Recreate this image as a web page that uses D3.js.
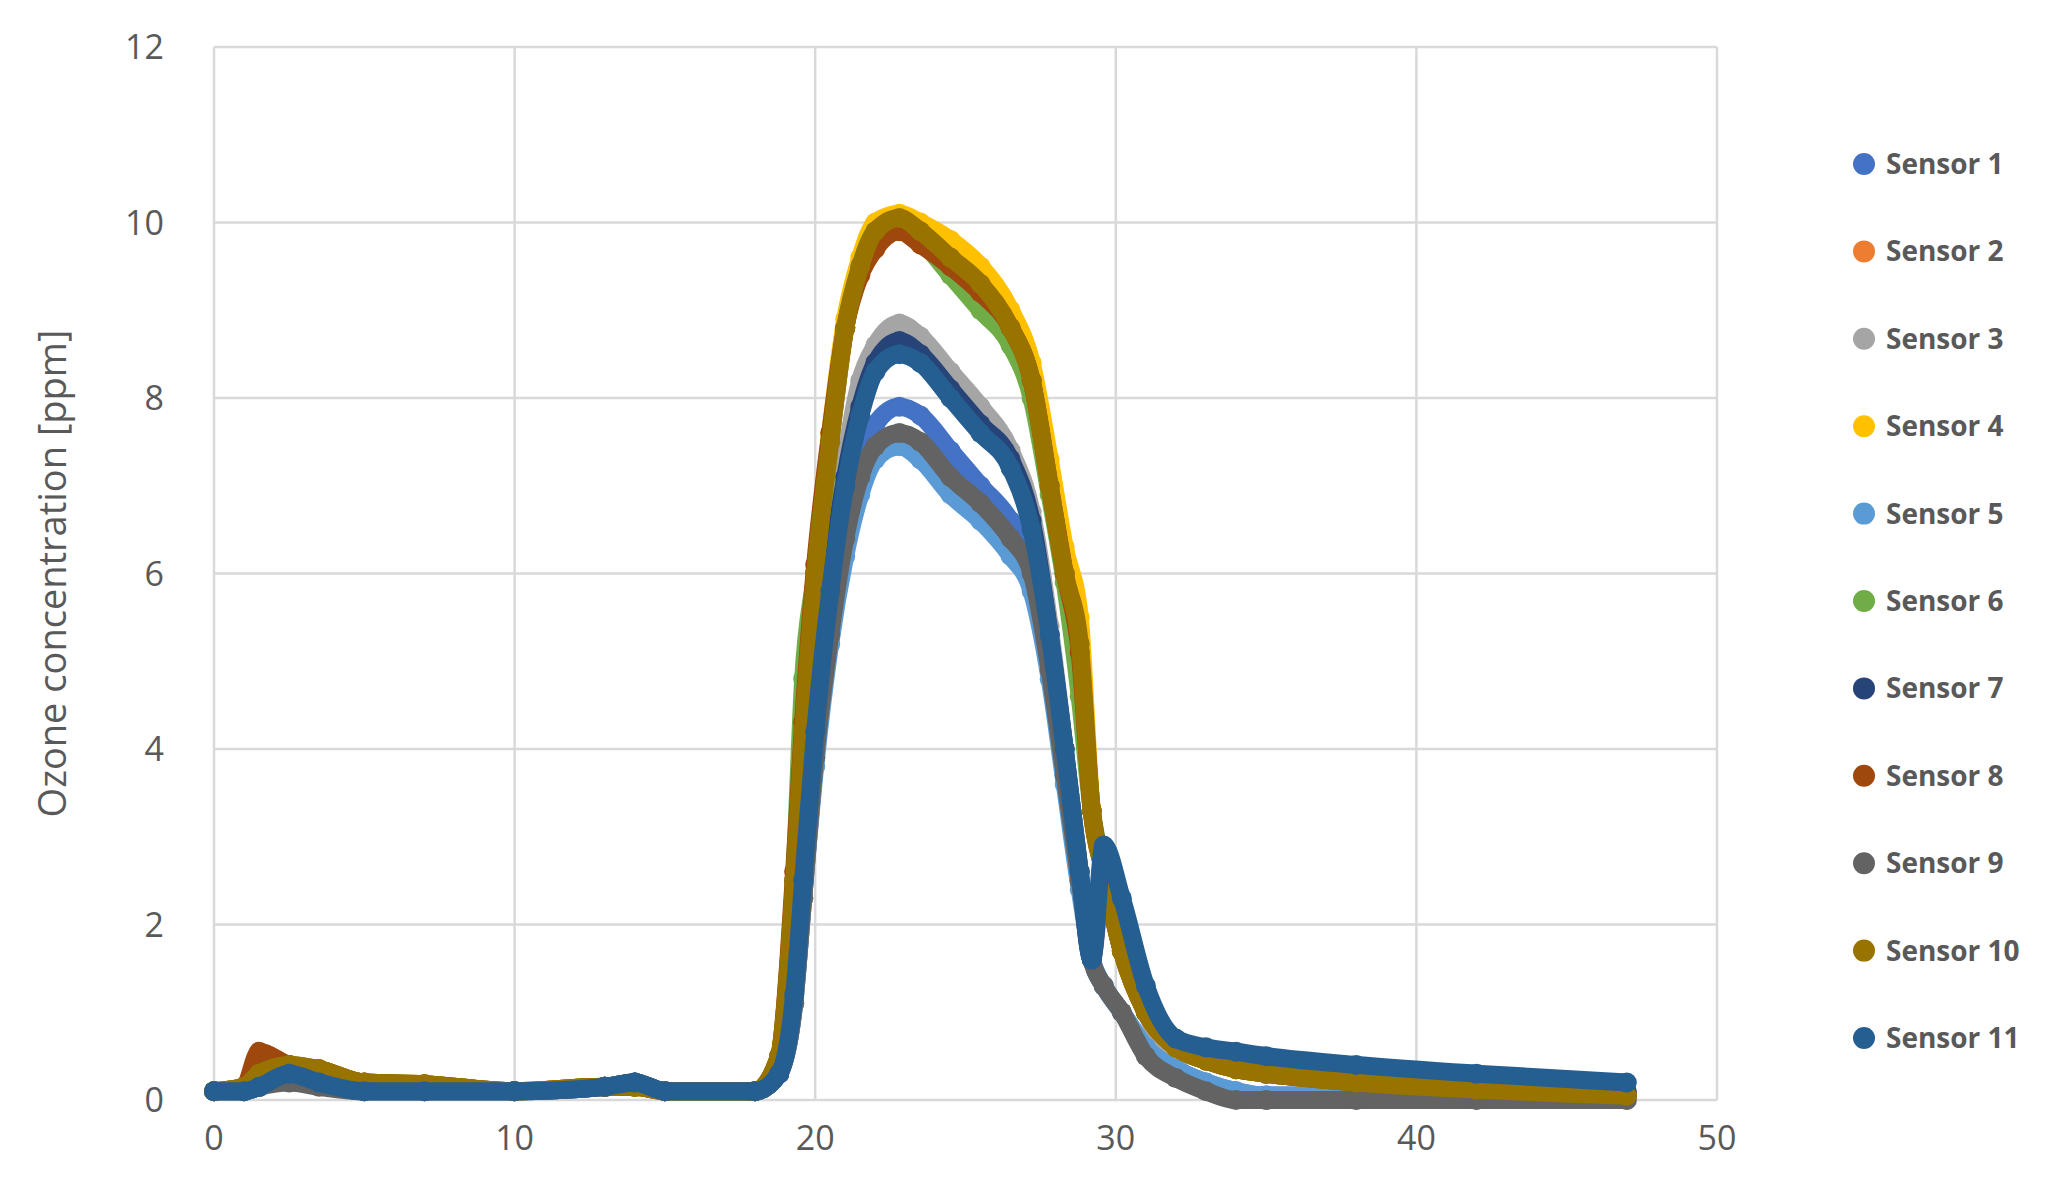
<!DOCTYPE html><html><head><meta charset="utf-8">
<script src="https://cdn.jsdelivr.net/npm/d3@7"></script>
<style>body{margin:0;background:#fff}</style></head><body><svg id="c" width="2058" height="1195"></svg>
<script>
const times=[0,1,1.5,2.5,3.5,5,7,10,13,14,15,18,18.8,19.3,19.6,20,20.5,21,21.5,22,22.8,23.5,24.5,25.5,26.5,27.2,27.8,28.3,28.8,29.2,29.6,30.2,31,32,33,34,35,38,42,47];
const names=["Sensor 1","Sensor 2","Sensor 3","Sensor 4","Sensor 5","Sensor 6","Sensor 7","Sensor 8","Sensor 9","Sensor 10","Sensor 11"];
const colors=["#4472c4","#ed7d31","#a5a5a5","#ffc000","#5b9bd5","#70ad47","#264478","#9e480e","#636363","#997300","#255e91"];
const s1=[0.1,0.1,0.15,0.3,0.2,0.1,0.1,0.1,0.15,0.2,0.1,0.1,0.3,1.1,2.3,3.9,5.4,6.5,7.3,7.7,7.9,7.8,7.4,7.0,6.6,6.1,5.0,3.8,2.5,1.6,1.3,1.0,0.6,0.35,0.2,0.1,0.05,0.05,0.05,0.05];
const s2=[0.1,0.15,0.3,0.4,0.35,0.2,0.18,0.1,0.15,0.15,0.1,0.1,0.5,2.5,4.2,6.0,7.5,8.8,9.5,9.9,10.0,9.85,9.6,9.3,8.8,8.2,7.0,6.0,5.1,3.3,2.6,1.7,1.0,0.6,0.45,0.35,0.3,0.2,0.12,0.05];
const s3=[0.1,0.1,0.15,0.25,0.2,0.1,0.1,0.1,0.15,0.2,0.1,0.1,0.3,1.2,2.5,4.3,6.0,7.3,8.2,8.6,8.85,8.7,8.3,7.9,7.4,6.7,5.4,4.0,2.6,1.6,2.6,1.9,1.0,0.4,0.15,0.05,0.0,0.0,0.0,0.0];
const s4=[0.1,0.15,0.3,0.4,0.35,0.2,0.18,0.1,0.15,0.15,0.1,0.1,0.5,2.3,4.0,6.0,7.6,8.9,9.6,10.0,10.1,10.0,9.8,9.5,9.0,8.4,7.3,6.3,5.5,3.3,2.6,1.7,1.0,0.6,0.45,0.35,0.3,0.2,0.12,0.05];
const s5=[0.1,0.1,0.15,0.3,0.2,0.1,0.1,0.1,0.15,0.2,0.1,0.1,0.3,1.1,2.3,3.8,5.2,6.2,6.9,7.3,7.45,7.3,6.9,6.6,6.2,5.8,4.8,3.6,2.4,1.6,1.3,1.0,0.6,0.35,0.2,0.1,0.05,0.05,0.05,0.05];
const s6=[0.1,0.15,0.3,0.4,0.35,0.2,0.18,0.1,0.15,0.15,0.1,0.1,0.5,2.5,4.8,6.0,7.5,8.8,9.5,9.9,10.0,9.8,9.4,9.0,8.6,8.0,6.9,5.9,4.6,3.3,2.6,1.7,1.0,0.6,0.45,0.35,0.3,0.2,0.12,0.05];
const s7=[0.1,0.1,0.15,0.3,0.2,0.1,0.1,0.1,0.15,0.2,0.1,0.1,0.3,1.2,2.5,4.2,5.9,7.1,7.9,8.4,8.65,8.5,8.1,7.7,7.3,6.6,5.3,4.0,2.6,1.6,2.8,2.2,1.2,0.65,0.5,0.4,0.35,0.3,0.2,0.1];
const s8=[0.1,0.15,0.55,0.4,0.35,0.2,0.18,0.1,0.15,0.15,0.1,0.1,0.5,2.6,4.3,6.1,7.6,8.8,9.4,9.7,9.9,9.75,9.5,9.2,8.8,8.2,7.0,6.0,5.1,3.3,2.6,1.7,1.0,0.6,0.45,0.35,0.3,0.2,0.12,0.05];
const s9=[0.1,0.1,0.15,0.2,0.15,0.1,0.1,0.1,0.15,0.2,0.1,0.1,0.3,1.1,2.3,3.9,5.3,6.4,7.1,7.45,7.6,7.5,7.1,6.8,6.4,6.0,4.9,3.7,2.5,1.6,1.3,1.0,0.5,0.25,0.1,0.0,0.0,0.0,0.0,0.0];
const s10=[0.1,0.15,0.3,0.4,0.35,0.2,0.18,0.1,0.15,0.15,0.1,0.1,0.5,2.5,4.2,6.0,7.5,8.8,9.5,9.9,10.05,9.9,9.6,9.3,8.8,8.2,7.0,6.0,5.2,3.3,2.6,1.7,1.0,0.6,0.45,0.35,0.3,0.2,0.12,0.05];
const s11=[0.1,0.1,0.15,0.3,0.2,0.1,0.1,0.1,0.15,0.2,0.1,0.1,0.3,1.2,2.5,4.2,5.8,7.0,7.8,8.3,8.5,8.4,8.0,7.6,7.2,6.5,5.3,4.0,2.6,1.6,2.9,2.3,1.3,0.7,0.6,0.55,0.5,0.4,0.3,0.2];
const series=[s1,s2,s3,s4,s5,s6,s7,s8,s9,s10,s11];
const xTicks=[0,10,20,30,40,50], yTicks=[0,2,4,6,8,10,12];

const svg=d3.select("#c");
const L=214,R=1717,T=47,B=1100;
const x=d3.scaleLinear().domain([0,50]).range([L,R]);
const y=d3.scaleLinear().domain([0,12]).range([B,T]);
const g=svg.append("g");
g.selectAll(".gy").data(yTicks).join("line").attr("x1",L).attr("x2",R).attr("y1",d=>y(d)).attr("y2",d=>y(d)).attr("stroke","#d9d9d9").attr("stroke-width",2.5);
g.selectAll(".gx").data(xTicks).join("line").attr("y1",T).attr("y2",B).attr("x1",d=>x(d)).attr("x2",d=>x(d)).attr("stroke","#d9d9d9").attr("stroke-width",2.5);
const f="'Open Sans','Liberation Sans',sans-serif";
g.selectAll(".tx").data(xTicks).join("text").attr("x",d=>x(d)).attr("y",B+50).attr("text-anchor","middle").attr("font-family",f).attr("font-size",34).attr("fill","#595959").text(d=>d);
g.selectAll(".ty").data(yTicks).join("text").attr("x",L-50).attr("y",d=>y(d)+12).attr("text-anchor","end").attr("font-family",f).attr("font-size",34).attr("fill","#595959").text(d=>d);
svg.append("text").attr("transform",`translate(66,${(T+B)/2}) rotate(-90)`).attr("text-anchor","middle").attr("font-family",f).attr("font-size",38).attr("fill","#595959").text("Ozone concentration [ppm]");
const line=d3.line().x((d,i)=>x(times[i])).y(d=>y(d)).curve(d3.curveMonotoneX);
series.forEach((s,k)=>{
  g.append("path").attr("d",line(s)).attr("fill","none").attr("stroke",colors[k]).attr("stroke-width",18).attr("stroke-linecap","round").attr("stroke-linejoin","round");
  g.selectAll(null).data(s).join("circle").attr("cx",(d,i)=>x(times[i])).attr("cy",d=>y(d)).attr("r",10).attr("fill",colors[k]);
});
const lg=svg.append("g");
names.forEach((n,k)=>{
  const yy=164+k*87.4;
  lg.append("circle").attr("cx",1864).attr("cy",yy).attr("r",11).attr("fill",colors[k]);
  lg.append("text").attr("x",1886).attr("y",yy+10).attr("font-family",f).attr("font-weight","bold").attr("font-size",28).attr("fill","#595959").text(n);
});
</script></body></html>
